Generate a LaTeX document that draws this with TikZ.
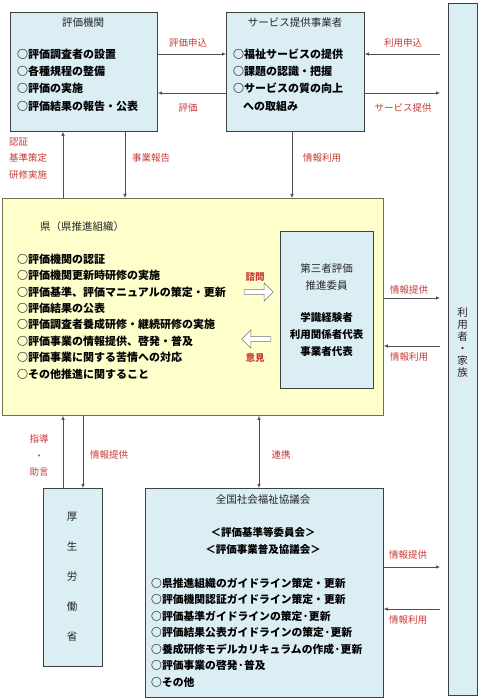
\documentclass[tikz,border=0pt]{standalone}
\usepackage{fontspec}
\setmainfont{Noto Sans CJK JP}
\usetikzlibrary{arrows.meta,shapes.arrows}
\definecolor{boxfill}{HTML}{DAEEF3}
\definecolor{yelfill}{HTML}{FFFFCC}
\definecolor{bordc}{HTML}{404040}
\definecolor{yelbord}{HTML}{6E6E50}
\definecolor{lred}{HTML}{C83A36}
\definecolor{arrc}{HTML}{505050}
\begin{document}
\begin{tikzpicture}[x=1pt,y=-1pt,
  box/.style={draw=bordc, fill=boxfill, line width=0.8pt, inner sep=0pt, anchor=north west},
  ttl/.style={inner sep=0pt, text=black!85, font=\fontsize{10.5}{13}\selectfont},
  items/.style={align=left, inner sep=0pt, anchor=west, font=\fontsize{11}{17.3}\selectfont\bfseries},
  lbl/.style={inner sep=0pt, text=lred, font=\fontsize{9.5}{11}\selectfont},
  arr/.style={draw=arrc, line width=0.7pt, -{Latex[length=4pt,width=3.5pt]}},
  darr/.style={draw=arrc, line width=0.7pt, {Latex[length=4pt,width=3.5pt]}-{Latex[length=4pt,width=3.5pt]}},
  blk/.style={single arrow, draw=black!55, fill=white, line width=0.6pt, minimum height=29pt, minimum width=18pt, single arrow head extend=5pt, inner sep=1.5pt}
]
\useasboundingbox (0,0) rectangle (499,700);
\fill[white] (0,0) rectangle (499,700);

% boxes
\node[box, minimum width=147pt, minimum height=119pt] (hyoka) at (10,12) {};
\node[box, minimum width=138pt, minimum height=119pt] (svc) at (226,12) {};
\node[box, minimum width=29pt, minimum height=692pt] (user) at (448,3) {};
\node[box, fill=yelfill, draw=yelbord, minimum width=381pt, minimum height=217pt] (ken) at (2,198) {};
\node[box, minimum width=93pt, minimum height=157pt] (iin) at (280,231) {};
\node[box, minimum width=59pt, minimum height=178pt] (kosei) at (43,488) {};
\node[box, minimum width=238pt, minimum height=209pt] (zen) at (145,488) {};

% texts in boxes
\node[ttl] (hyokaT) at (83,23) {評価機関};
\node[items] (hyokaL) at (17,80) {○評価調査者の設置\\○各種規程の整備\\○評価の実施\\○評価結果の報告・公表};
\node[ttl] (svcT) at (295,23) {サービス提供事業者};
\node[items] (svcL) at (233,80) {○福祉サービスの提供\\○課題の認識・把握\\○サービスの質の向上\\\hspace*{10pt}への取組み};
\node[ttl, align=center, font=\fontsize{10.5}{12}\selectfont] (userT) at (462.5,343) {利\\用\\者\\・\\家\\族};

\node[ttl, anchor=west] (kenT) at (40,227) {県（県推進組織）};
\node[items, font=\fontsize{11}{16.4}\selectfont\bfseries] (kenL) at (17,316.5) {○評価機関の認証\\○評価機関更新時研修の実施\\○評価基準、評価マニュアルの策定・更新\\○評価結果の公表\\○評価調査者養成研修・継続研修の実施\\○評価事業の情報提供、啓発・普及\\○評価事業に関する苦情への対応\\○その他推進に関すること};

\node[ttl, align=center, font=\fontsize{10.5}{17}\selectfont] (iinT) at (326.5,276.5) {第三者評価\\推進委員};
\node[ttl, align=center, text=black, font=\fontsize{10.5}{17}\selectfont\bfseries] (iinL) at (326.5,334) {学識経験者\\利用関係者代表\\事業者代表};

\node[blk] (shimon) at (257.5,292) {};
\node[blk, shape border rotate=180] (iken) at (257.5,339) {};
\node[lbl, font=\fontsize{9.5}{11}\selectfont\bfseries] (shimonL) at (255,277) {諮問};
\node[lbl, font=\fontsize{9.5}{11}\selectfont\bfseries] (ikenL) at (255,358) {意見};

\node[ttl, align=center, font=\fontsize{10.5}{30}\selectfont] (koseiT) at (72,577) {厚\\生\\労\\働\\省};

\node[ttl] (zenT) at (263,500) {全国社会福祉協議会};
\node[ttl, align=center, text=black, font=\fontsize{10.5}{17}\selectfont\bfseries] (zenC) at (263,540.5) {＜評価基準等委員会＞\\＜評価事業普及協議会＞};
\node[items, font=\fontsize{10.8}{16.5}\selectfont\bfseries] (zenL) at (151,632.5) {○県推進組織のガイドライン策定・更新\\○評価機関認証ガイドライン策定・更新\\○評価基準ガイドラインの策定·更新\\○評価結果公表ガイドラインの策定·更新\\○養成研修モデルカリキュラムの作成·更新\\○評価事業の啓発·普及\\○その他};

% connectors top row
\draw[arr] (hyoka.east |- 0,54) -- (svc.west |- 0,54);
\node[lbl] (l1) at (188,43) {評価申込};
\draw[arr] (svc.west |- 0,93) -- (hyoka.east |- 0,93);
\node[lbl] (l2) at (188,108) {評価};
\draw[arr, shorten <=8pt] (user.west |- 0,54) -- (svc.east |- 0,54);
\node[lbl] (l3) at (403,43) {利用申込};
\draw[arr, shorten >=8pt] (svc.east |- 0,93) -- (user.west |- 0,93);
\node[lbl] (l4) at (403,108) {サービス提供};

% verticals to ken
\draw[arr] (ken.north -| 63,0) -- (hyoka.south -| 63,0);
\node[lbl, anchor=west, align=left, font=\fontsize{9.5}{16.5}\selectfont] (l5) at (9,158.5) {認証\\基準策定\\研修実施};
\draw[arr] (hyoka.south -| 125,0) -- (ken.north -| 125,0);
\node[lbl] (l6) at (151,158) {事業報告};
\draw[arr] (svc.south -| 292,0) -- (ken.north -| 292,0);
\node[lbl] (l7) at (322,158) {情報利用};

% ken <-> user
\draw[arr, shorten >=8pt] (ken.east |- 0,298) -- (user.west |- 0,298);
\node[lbl] (l8) at (409,290) {情報提供};
\draw[arr, shorten <=8pt] (user.west |- 0,346) -- (ken.east |- 0,346);
\node[lbl] (l9) at (409,357) {情報利用};

% ken <-> kosei
\draw[arr] (kosei.north -| 63,0) -- (ken.south -| 63,0);
\node[lbl, align=center, font=\fontsize{9.5}{16.5}\selectfont] (l10) at (39,455.5) {指導\\・\\助言};
\draw[arr] (ken.south -| 83,0) -- (kosei.north -| 83,0);
\node[lbl] (l11) at (109,455) {情報提供};

% ken <-> zen
\draw[darr] (ken.south -| 259,0) -- (zen.north -| 259,0);
\node[lbl] (l12) at (281,455) {連携};

% zen <-> user
\draw[arr, shorten >=8pt] (zen.east |- 0,567) -- (user.west |- 0,567);
\node[lbl] (l13) at (408,555) {情報提供};
\draw[arr, shorten <=8pt] (user.west |- 0,609) -- (zen.east |- 0,609);
\node[lbl] (l14) at (408,620) {情報利用};
\end{tikzpicture}
\end{document}
